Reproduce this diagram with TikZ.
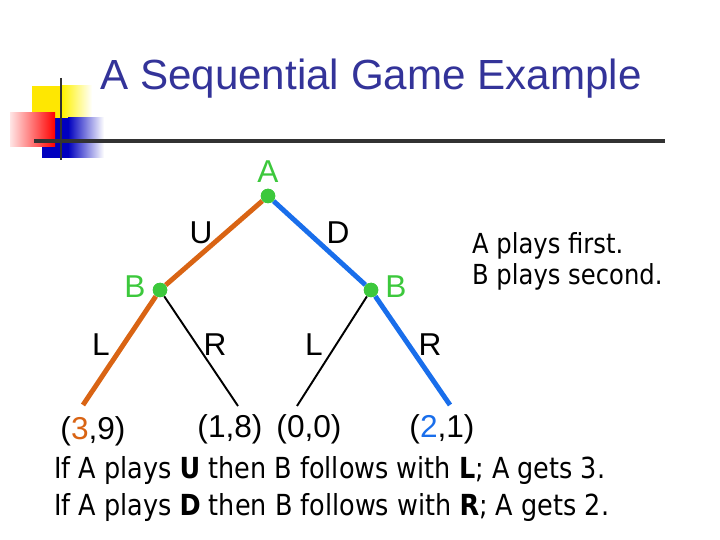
\documentclass[tikz,border=0pt]{standalone}
\usepackage{fontspec}
\setmainfont{Liberation Sans}
\newfontfamily\tahoma[FakeStretch=0.88]{DejaVu Sans}
\usetikzlibrary{positioning}
\definecolor{titleblue}{RGB}{51,51,153}
\definecolor{nodegreen}{RGB}{60,200,60}
\definecolor{upbranch}{RGB}{217,100,20}
\definecolor{downbranch}{RGB}{25,110,235}
\definecolor{rulegray}{RGB}{50,50,50}

\begin{document}
\begin{tikzpicture}[x=0.02cm, y=-0.02cm, every node/.style={font=\fontsize{18}{21}\selectfont, inner sep=1pt}, dot/.style={circle, fill=nodegreen, minimum size=0.29cm, inner sep=0pt}, player/.style={text=nodegreen}, branch/.style={line width=2.8pt}, reply/.style={line width=1.1pt}, note/.style={font=\tahoma\fontsize{15.7}{17.6}\selectfont, align=left, anchor=west}]
\useasboundingbox (0,0) rectangle (720,540);
\fill[yellow!90!orange] (32,86) rectangle (62,118);
\shade[left color=yellow!90!orange, right color=white] (62,86) rectangle (92,118);
\fill[blue!75!black] (42,118) rectangle (68,158);
\shade[left color=blue!75!black, right color=white] (68,118) rectangle (104,158);
\shade[left color=red!10, right color=red] (10,113) rectangle (55,147);
\draw[rulegray, line width=1.6pt] (61,78) -- (61,160);
\draw[rulegray, line width=1.8pt] (34,141) -- (665,141);
\node[text=titleblue, font=\fontsize{24}{28}\selectfont] (title) at (371,79) {A Sequential Game Example};
\node[dot] (a) at (268,196) {};
\node[dot] (bl) at (160,290) {};
\node[dot] (br) at (371,290) {};
\node[player] (la) at (268,172) {A};
\node[player] (lbl) at (135,287) {B};
\node[player] (lbr) at (396,287) {B};
\coordinate (e39) at (83,405);
\coordinate (e18) at (238,406);
\coordinate (e00) at (297,406);
\coordinate (e21) at (450,405);
\draw[branch, upbranch] (a) -- (bl) -- (e39);
\draw[branch, downbranch] (a) -- (br) -- (e21);
\draw[reply] (bl) -- (e18);
\draw[reply] (br) -- (e00);
\node[dot] at (a) {};
\node[dot] at (bl) {};
\node[dot] at (br) {};
\node (mu) at (201,233) {U};
\node (md) at (338,233) {D};
\node (mll) at (101,345) {L};
\node (mlr) at (215,345) {R};
\node (mrl) at (314,345) {L};
\node (mrr) at (430,345) {R};
\node (p39) at (93,431) {(\textcolor{upbranch}{3},9)};
\node (p18) at (230,429) {(1,8)};
\node (p00) at (309,429) {(0,0)};
\node (p21) at (442,429) {(\textcolor{downbranch}{2},1)};
\node[note] (order) at (470,261) {A plays first.\\B plays second.};
\node[note, font=\tahoma\fontsize{16.5}{21}\selectfont] (outcome) at (52,489) {If A plays \textbf{U} then B follows with \textbf{L}; A gets 3.\\If A plays \textbf{D} then B follows with \textbf{R}; A gets 2.};
\end{tikzpicture}
\end{document}
